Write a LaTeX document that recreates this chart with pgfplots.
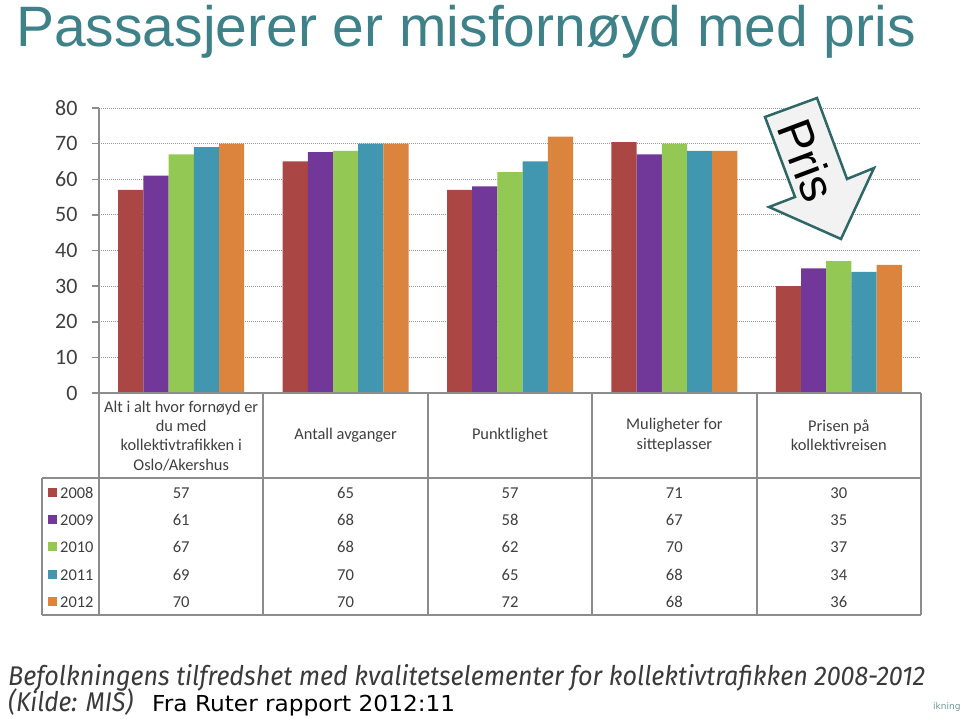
\documentclass[border=0pt]{standalone}
\usepackage{fontspec}
\setmainfont{Carlito}
\newfontfamily\titlefont{Liberation Sans}
\newfontfamily\capfont{Fira Sans}
\newfontfamily\dvfont{DejaVu Sans}
\usepackage{graphicx}
\usepackage{pgfplots}
\usepackage{pgfplotstable}
\pgfplotsset{compat=1.18}

\definecolor{cA}{HTML}{AA4643}
\definecolor{cB}{HTML}{71389A}
\definecolor{cC}{HTML}{92C853}
\definecolor{cD}{HTML}{4197B0}
\definecolor{cE}{HTML}{DB843D}
\definecolor{titlec}{HTML}{3E8189}
\definecolor{gridc}{HTML}{8C8C8C}
\definecolor{txt}{HTML}{3F3F3F}
\definecolor{arrowc}{HTML}{2F6767}
\definecolor{capc}{HTML}{3A3A3A}

\pgfplotstableread{
x y2008 y2009 y2010 y2011 y2012
0 57   61   67 69 70
1 65   67.6 68 70 70
2 57   58   62 65 72
3 70.4 67   70 68 68
4 30   35   37 34 36
}\datatable

\begin{document}
\begin{tikzpicture}
\path[use as bounding box] (0pt,0pt) rectangle (960pt,-719pt);
\begin{axis}[
  at={(99pt,-393pt)}, anchor=south west,
  scale only axis, width=822pt, height=285pt,
  xmin=-0.5, xmax=4.5, ymin=0, ymax=80,
  ybar=0pt, bar width=25.2pt,
  axis x line=none, axis y line=left,
  axis line style={-, draw=gridc, line width=2pt},
  xtick=\empty, ytick={0,10,...,80},
  ymajorgrids,
  grid style={draw=gridc!90, line width=1pt, dash pattern=on 1pt off 1pt},
  tick style={draw=gridc, line width=1.5pt},
  tick align=outside, major tick length=7pt,
  yticklabel style={font=\fontsize{22}{22}\selectfont, text=txt, xshift=-11pt},
  /pgf/number format/assume math mode=true,
]
\addplot[fill=cA, draw=none] table[x=x,y=y2008]{\datatable};
\addplot[fill=cB, draw=none] table[x=x,y=y2009]{\datatable};
\addplot[fill=cC, draw=none] table[x=x,y=y2010]{\datatable};
\addplot[fill=cD, draw=none] table[x=x,y=y2011]{\datatable};
\addplot[fill=cE, draw=none] table[x=x,y=y2012]{\datatable};
\end{axis}

\begin{scope}[x=1pt,y=-1pt]
% table grid
\draw[gridc, line width=2pt] (99,393) -- (921,393);
\draw[gridc, line width=2pt] (42,478) -- (921,478);
\draw[gridc, line width=2pt] (42,615) -- (921,615);
\draw[gridc, line width=2pt] (42,478) -- (42,615);
\foreach \x in {99,263.4,427.8,592.2,756.6,921}
  \draw[gridc, line width=2pt] (\x,393) -- (\x,615);

% header texts
\begin{scope}[every node/.style={align=center, text=txt, inner sep=0pt,
    font=\fontsize{16.4}{19.3}\selectfont}]
\node at (181.2,436) {Alt i alt hvor fornøyd er\\du med\\kollektivtrafikken i\\Oslo/Akershus};
\node at (345.6,435) {Antall avganger};
\node at (510,435) {Punktlighet};
\node at (674.4,435) {Muligheter for\\sitteplasser};
\node at (838.8,435) {Prisen på\\kollektivreisen};
\end{scope}

% legend column
\begin{scope}[every node/.style={anchor=base west, text=txt, inner sep=0pt,
    font=\fontsize{16.4}{16.4}\selectfont}]
\fill[cA] (48,488) rectangle (57,497); \node at (60,498) {2008};
\fill[cB] (48,515) rectangle (57,524); \node at (60,525) {2009};
\fill[cC] (48,542) rectangle (57,551); \node at (60,552) {2010};
\fill[cD] (48,570) rectangle (57,579); \node at (60,580) {2011};
\fill[cE] (48,597) rectangle (57,606); \node at (60,607) {2012};
\end{scope}

% table numbers
\begin{scope}[every node/.style={anchor=base, text=txt, inner sep=0pt,
    font=\fontsize{16.6}{16.6}\selectfont}]
\node at (181.2,498) {57}; \node at (345.6,498) {65}; \node at (510,498) {57}; \node at (674.4,498) {71}; \node at (838.8,498) {30};
\node at (181.2,525) {61}; \node at (345.6,525) {68}; \node at (510,525) {58}; \node at (674.4,525) {67}; \node at (838.8,525) {35};
\node at (181.2,552) {67}; \node at (345.6,552) {68}; \node at (510,552) {62}; \node at (674.4,552) {70}; \node at (838.8,552) {37};
\node at (181.2,580) {69}; \node at (345.6,580) {70}; \node at (510,580) {65}; \node at (674.4,580) {68}; \node at (838.8,580) {34};
\node at (181.2,607) {70}; \node at (345.6,607) {70}; \node at (510,607) {72}; \node at (674.4,607) {68}; \node at (838.8,607) {36};
\end{scope}

% title
\node[anchor=base west, inner sep=0pt, text=titlec,
  font=\titlefont\fontsize{57}{57}\selectfont] at (16,47) {Passasjerer er misfornøyd med pris};

% arrow
\draw[fill=black!5, draw=arrowc, line width=2.5pt, line join=miter]
  (765,117) -- (817,98) -- (847,179) -- (874,168) -- (841,239) -- (769,207) -- (795,197) -- cycle;
\node[rotate=-69.4, text=black, font=\titlefont\fontsize{48}{48}\selectfont, inner sep=0pt] at (807,160) {Pris};

% caption
\node[anchor=base west, inner sep=0pt, text=capc, font=\capfont\itshape\fontsize{27}{27}\selectfont]
  at (8,685) {\resizebox{917pt}{\height}{Befolkningens tilfredshet med kvalitetselementer for kollektivtrafikken 2008-2012}};
\node[anchor=base west, inner sep=0pt, text=capc, font=\capfont\itshape\fontsize{27}{27}\selectfont]
  at (8,711) {\resizebox{125pt}{\height}{(Kilde: MIS)}};
\node[anchor=base west, inner sep=0pt, text=black, font=\dvfont\fontsize{22}{22}\selectfont]
  at (152,711) {\resizebox{303pt}{\height}{Fra Ruter rapport 2012:11}};
\node[anchor=base west, inner sep=0pt, text=arrowc!70, font=\dvfont\fontsize{9}{9}\selectfont]
  at (933,709) {ikning};
\end{scope}
\end{tikzpicture}
\end{document}
